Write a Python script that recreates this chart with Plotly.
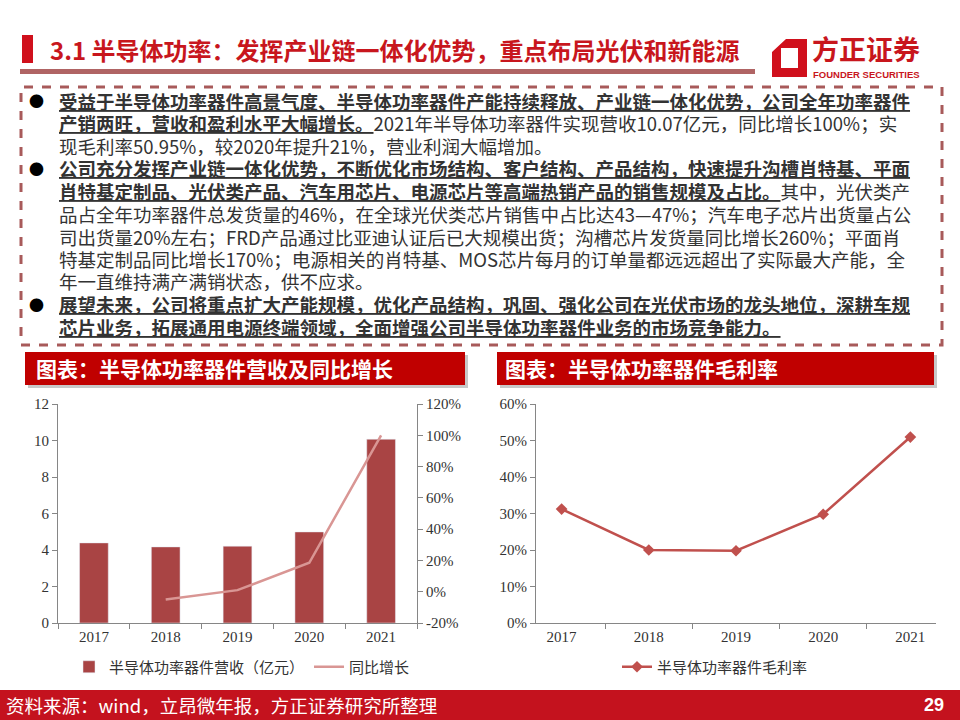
import plotly.graph_objects as go

W, H = 960, 720

# ---- data ----
years = ["2017", "2018", "2019", "2020", "2021"]
revenue = [4.39, 4.17, 4.21, 4.99, 10.07]          # 亿元
growth = [None, -5.0, 1.0, 18.5, 100.0]           # %
gross_margin = [31.2, 20.0, 19.8, 29.8, 50.95]    # %

rev_ticks = [0, 2, 4, 6, 8, 10, 12]
growth_ticks = [-20, 0, 20, 40, 60, 80, 100, 120]
margin_ticks = [0, 10, 20, 30, 40, 50, 60]

title_text = "3.1 半导体功率：发挥产业链一体化优势，重点布局光伏和新能源"
chart1_title = "图表：半导体功率器件营收及同比增长"
chart2_title = "图表：半导体功率器件毛利率"
source_text = "资料来源：wind，立昂微年报，方正证券研究所整理"
page_no = "29"

U = '<span style="text-decoration:underline">'
body_lines = [
    "<b>" + U + "受益于半导体功率器件高景气度、半导体功率器件产能持续释放、产业链一体化优势，公司全年功率器件</span></b>",
    "<b>" + U + "产销两旺，营收和盈利水平大幅增长。</span></b>2021年半导体功率器件实现营收10.07亿元，同比增长100%；实",
    "现毛利率50.95%，较2020年提升21%，营业利润大幅增加。",
    "<b>" + U + "公司充分发挥产业链一体化优势，不断优化市场结构、客户结构、产品结构，快速提升沟槽肖特基、平面</span></b>",
    "<b>" + U + "肖特基定制品、光伏类产品、汽车用芯片、电源芯片等高端热销产品的销售规模及占比。</span></b>其中，光伏类产",
    "品占全年功率器件总发货量的46%，在全球光伏类芯片销售中占比达43—47%；汽车电子芯片出货量占公",
    "司出货量20%左右；FRD产品通过比亚迪认证后已大规模出货；沟槽芯片发货量同比增长260%；平面肖",
    "特基定制品同比增长170%；电源相关的肖特基、MOS芯片每月的订单量都远远超出了实际最大产能，全",
    "年一直维持满产满销状态，供不应求。",
    "<b>" + U + "展望未来，公司将重点扩大产能规模，优化产品结构，巩固、强化公司在光伏市场的龙头地位，深耕车规</span></b>",
    "<b>" + U + "芯片业务，拓展通用电源终端领域，全面增强公司半导体功率器件业务的市场竞争能力。</span></b>",
]
line_y = [101, 123, 146, 168, 191, 214, 237, 259, 281, 304, 327]
bullet_rows = [0, 3, 9]


def px(x):
    return x / W


def py(y):
    return 1 - y / H


CJK = "Noto Sans CJK SC"
SERIF = "Liberation Serif"
RED = "#C00000"
AXIS = "#868686"

fig = go.Figure()

# 营收柱状图
fig.add_trace(go.Bar(
    x=years, y=revenue, name="半导体功率器件营收（亿元）",
    marker_color="#A94444", xaxis="x", yaxis="y", legend="legend"
))
# 同比增长
fig.add_trace(go.Scatter(
    x=years, y=growth, name="同比增长", mode="lines",
    line=dict(color="#D99694", width=2.5), xaxis="x", yaxis="y2",
    legend="legend"
))
# 毛利率
fig.add_trace(go.Scatter(
    x=years, y=gross_margin, name="半导体功率器件毛利率", mode="lines+markers",
    line=dict(color="#C0504D", width=2.5),
    marker=dict(symbol="diamond", size=9, color="#C0504D"),
    xaxis="x2", yaxis="y3", legend="legend2"
))

tickfont = dict(family=SERIF, size=15, color="#333333")
common_x = dict(type="category", showline=True, linecolor=AXIS, linewidth=1,
                ticks="outside", tickson="boundaries", ticklen=5, tickcolor=AXIS,
                tickfont=tickfont, showgrid=False, zeroline=False, fixedrange=True)
common_y = dict(showline=True, linecolor=AXIS, linewidth=1, ticks="outside",
                ticklen=5, tickcolor=AXIS, tickfont=tickfont, showgrid=False,
                zeroline=False, fixedrange=True)

fig.update_layout(
    width=W, height=H,
    margin=dict(l=0, r=0, t=0, b=0, pad=0, autoexpand=False),
    paper_bgcolor="white", plot_bgcolor="white",
    bargap=0.6,
    xaxis=dict(domain=[px(58), px(417)], anchor="y", **common_x),
    yaxis=dict(domain=[py(623), py(404)], anchor="x", range=[0, 12],
               tickvals=rev_ticks, **common_y),
    yaxis2=dict(overlaying="y", side="right", anchor="x", range=[-20, 120],
                tickvals=growth_ticks, ticktext=[f"{v}%" for v in growth_ticks],
                **common_y),
    xaxis2=dict(domain=[px(536), px(936)], anchor="y3", **common_x),
    yaxis3=dict(domain=[py(623), py(404)], anchor="x2", range=[0, 60],
                tickvals=margin_ticks, ticktext=[f"{v}%" for v in margin_ticks],
                **common_y),
    legend=dict(orientation="h", x=px(69), y=py(667), xanchor="left",
                yanchor="middle", font=dict(family=CJK, size=15, color="#333333"),
                bgcolor="rgba(0,0,0,0)"),
    legend2=dict(orientation="h", x=px(617), y=py(667), xanchor="left",
                 yanchor="middle", font=dict(family=CJK, size=15, color="#333333"),
                 bgcolor="rgba(0,0,0,0)"),
    showlegend=True,
)

shapes = []
# 标题左侧红块和下划线
shapes.append(dict(type="rect", xref="paper", yref="paper",
                   x0=px(22), x1=px(33), y0=py(63), y1=py(35),
                   fillcolor="#D0101C", line_width=0))
shapes.append(dict(type="rect", xref="paper", yref="paper",
                   x0=px(20), x1=px(755), y0=py(74), y1=py(69),
                   fillcolor="#B06464", line_width=0))


# logo
def P(x, y):
    return f"{px(x):.5f},{py(y):.5f}"


logo = ("M" + P(772, 52) + " L" + P(786, 39) + " L" + P(807, 39) + " L" + P(807, 77)
        + " L" + P(772, 77) + " Z M" + P(781, 48) + " L" + P(781, 68) + " L" + P(798, 68)
        + " L" + P(798, 48) + " Z")
shapes.append(dict(type="path", xref="paper", yref="paper", path=logo,
                   fillcolor="#D0101C", line_width=0))
# 虚线框
shapes.append(dict(type="rect", xref="paper", yref="paper",
                   x0=px(21), x1=px(942), y0=py(345), y1=py(87),
                   line=dict(color="#A85A5A", width=3, dash="dash")))
# 图表标题栏 (带阴影)
for x0, x1 in [(25, 465), (497, 934)]:
    shapes.append(dict(type="rect", xref="paper", yref="paper",
                       x0=px(x0 + 3), x1=px(x1 + 3), y0=py(388), y1=py(355),
                       fillcolor="#C8C8C8", line_width=0))
    shapes.append(dict(type="rect", xref="paper", yref="paper",
                       x0=px(x0), x1=px(x1), y0=py(385), y1=py(352),
                       fillcolor=RED, line_width=0))
# 页脚
shapes.append(dict(type="rect", xref="paper", yref="paper",
                   x0=0, x1=1, y0=0, y1=py(690),
                   fillcolor="#C4121E", line_width=0))
fig.update_layout(shapes=shapes)

ann = []
ann.append(dict(text="<b>" + title_text + "</b>", x=px(48), y=py(50),
                font=dict(family=CJK, size=24, color="#C8161D")))
ann.append(dict(text="<b>方正证券</b>", x=px(810), y=py(49),
                font=dict(family=CJK, size=27, color="#C8161D")))
ann.append(dict(text="<b>FOUNDER SECURITIES</b>", x=px(811), y=py(75),
                font=dict(family="Liberation Sans", size=9.5, color="#C8161D")))
for t, yy in zip(body_lines, line_y):
    ann.append(dict(text=t, x=px(57), y=py(yy),
                    font=dict(family=CJK, size=18.5, color="#333333")))
for i in bullet_rows:
    ann.append(dict(text="●", x=px(27), y=py(line_y[i]),
                    font=dict(family=CJK, size=15, color="black")))
ann.append(dict(text="<b>" + chart1_title + "</b>", x=px(34), y=py(368),
                font=dict(family=CJK, size=21, color="white")))
ann.append(dict(text="<b>" + chart2_title + "</b>", x=px(503), y=py(368),
                font=dict(family=CJK, size=21, color="white")))
ann.append(dict(text=source_text, x=px(4), y=py(705),
                font=dict(family=CJK, size=18.5, color="white")))
ann.append(dict(text="<b>" + page_no + "</b>", x=px(922), y=py(705),
                font=dict(family="Liberation Sans", size=18, color="white")))
for a in ann:
    a.update(xref="paper", yref="paper", xanchor="left", yanchor="middle",
             showarrow=False, align="left")
fig.update_layout(annotations=ann)

# 页面默认 8px 边距会把图挤出窗口
fig.write_html("out.html", config={"displayModeBar": False},
               post_script="document.body.style.margin='0';document.body.style.overflow='hidden';")
